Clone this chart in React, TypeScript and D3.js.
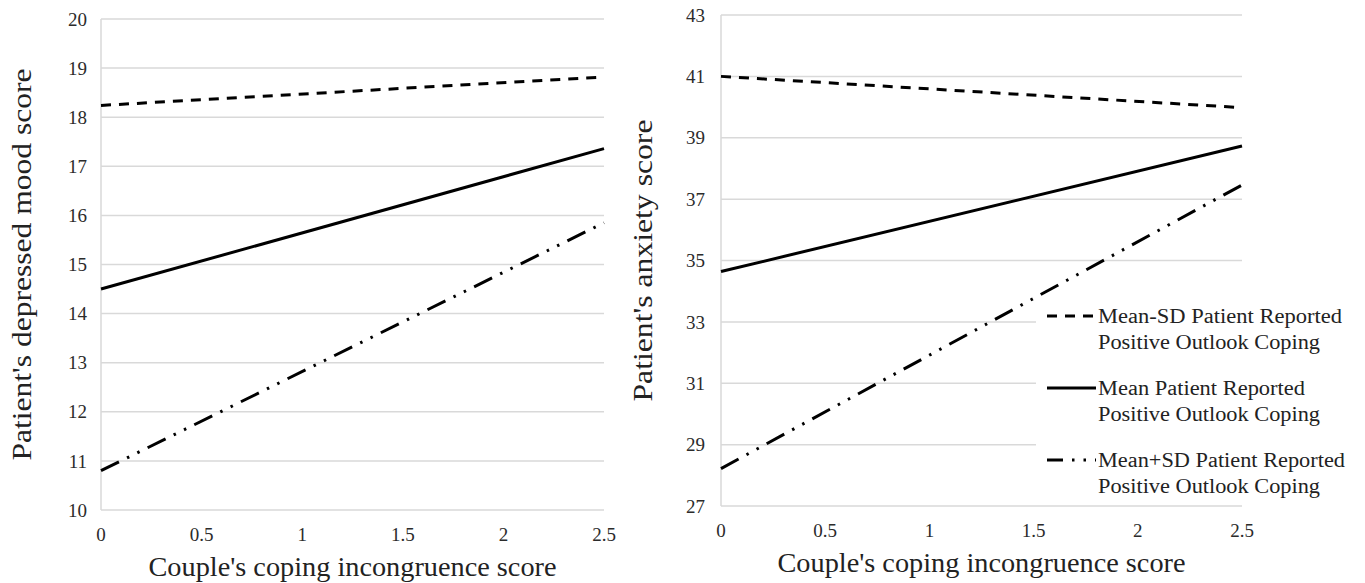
import React from 'react';
import * as d3 from 'd3';

// x values shared by both panels
const xValues = [0, 2.5];
const xTicks = [0, 0.5, 1, 1.5, 2, 2.5];

// left panel: depressed mood
const moodTicks = [10, 11, 12, 13, 14, 15, 16, 17, 18, 19, 20];
const moodLow = [18.24, 18.82];   // Mean-SD
const moodMean = [14.5, 17.36];   // Mean
const moodHigh = [10.8, 15.85];   // Mean+SD

// right panel: anxiety
const anxTicks = [27, 29, 31, 33, 35, 37, 39, 41, 43];
const anxLow = [41.0, 39.98];
const anxMean = [34.64, 38.73];
const anxHigh = [28.22, 37.46];

const seriesNames = [
  ['Mean-SD Patient Reported', 'Positive Outlook Coping'],
  ['Mean Patient Reported', 'Positive Outlook Coping'],
  ['Mean+SD Patient Reported', 'Positive Outlook Coping'],
];
// widths of the legend lines as measured on the reference
const nameWidths = [[244, 222], [207, 222], [247, 222]];
const dashes = ['10,8', null, '20,9,2.5,9,2.5,9'];

const FONT = '"Liberation Serif", "Times New Roman", serif';
const GRID = '#d9d9d9';

type PanelProps = {
  x0: number; x1: number; y0: number; y1: number;
  domain: [number, number];
  ticks: number[];
  series: number[][];
  yTitle: string;
  tickRight: number;
  titleX: number;
  titleLen: number;
};

const Panel = ({ x0, x1, y0, y1, domain, ticks, series, yTitle, tickRight, titleX, titleLen }: PanelProps) => {
  const x = d3.scaleLinear().domain([0, 2.5]).range([x0, x1]);
  const y = d3.scaleLinear().domain(domain).range([y1, y0]);
  const line = d3.line<number>().x((_, i) => x(xValues[i])).y(d => y(d));
  const cy = (y0 + y1) / 2;
  return (
    <g>
      {ticks.map(t => (
        <line key={t} x1={x0} x2={x1} y1={y(t)} y2={y(t)} stroke={GRID} strokeWidth={1.5} />
      ))}
      <line x1={x0} x2={x0} y1={y0} y2={y1} stroke={GRID} strokeWidth={1.5} />
      {ticks.map(t => (
        <text key={'l' + t} x={tickRight} y={y(t)} dy="0.35em" textAnchor="end" fontSize={19} fill="#2b2b2b">{t}</text>
      ))}
      {xTicks.map(t => (
        <text key={'x' + t} x={x(t)} y={y1 + 31} textAnchor="middle" fontSize={19} fill="#2b2b2b">{t}</text>
      ))}
      <text x={(x0 + x1) / 2} y={y1 + 66} textAnchor="middle" fontSize={27} fill="#222"
        textLength={408} lengthAdjust="spacingAndGlyphs">Couple's coping incongruence score</text>
      <text transform={`translate(${titleX},${cy}) rotate(-90)`} textAnchor="middle" fontSize={27} fill="#222"
        textLength={titleLen} lengthAdjust="spacingAndGlyphs">{yTitle}</text>
      {series.map((s, i) => (
        <path key={'s' + i} d={line(s) || ''} fill="none" stroke="#000" strokeWidth={3}
          strokeDasharray={dashes[i] || undefined} />
      ))}
    </g>
  );
};

const App = () => {
  const legendY = [316, 388, 460];
  return (
    <svg width={1365} height={583} style={{ position: 'absolute', left: 0, top: 0, background: '#fff' }} fontFamily={FONT}>
      <rect width={1365} height={583} fill="#fff" />
      <Panel x0={101} x1={604} y0={19} y1={510} domain={[10, 20]} ticks={moodTicks}
        series={[moodLow, moodMean, moodHigh]} yTitle="Patient's depressed mood score"
        tickRight={87} titleX={31} titleLen={392} />
      <Panel x0={721} x1={1242} y0={15} y1={506} domain={[27, 43]} ticks={anxTicks}
        series={[anxLow, anxMean, anxHigh]} yTitle="Patient's anxiety score"
        tickRight={705} titleX={652} titleLen={282} />
      {/* legend box hides the gridlines behind it */}
      <rect x={1036} y={296} width={329} height={205} fill="#fff" />
      {seriesNames.map((n, i) => (
        <g key={'lg' + i}>
          <line x1={1047} x2={1096} y1={legendY[i]} y2={legendY[i]} stroke="#000" strokeWidth={3}
            strokeDasharray={i === 2 ? '16,9,2.5,9,2.5,9' : dashes[i] || undefined} />
          <text x={1098} y={legendY[i] + 7} fontSize={20} fill="#222"
            textLength={nameWidths[i][0]} lengthAdjust="spacingAndGlyphs">{n[0]}</text>
          <text x={1098} y={legendY[i] + 33} fontSize={20} fill="#222"
            textLength={nameWidths[i][1]} lengthAdjust="spacingAndGlyphs">{n[1]}</text>
        </g>
      ))}
    </svg>
  );
};

export default App;
